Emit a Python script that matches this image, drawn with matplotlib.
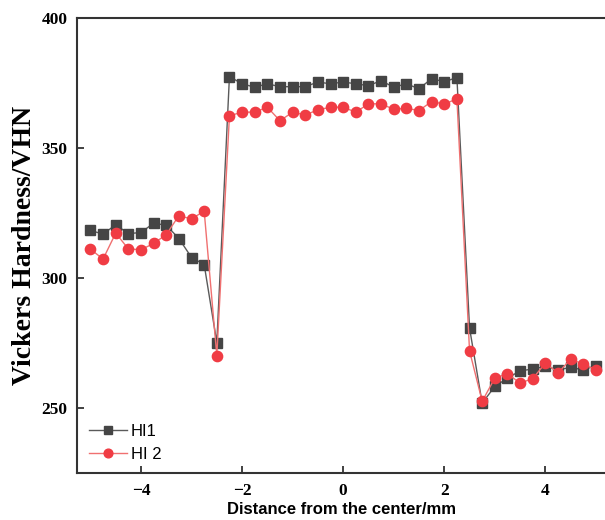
import matplotlib
matplotlib.use("Agg")
import matplotlib.pyplot as plt
import numpy as np

distance = [-5.0, -4.75, -4.5, -4.25, -4.0, -3.75, -3.5, -3.25, -3.0, -2.75, -2.5,
            -2.25, -2.0, -1.75, -1.5, -1.25, -1.0, -0.75, -0.5, -0.25, 0.0,
            0.25, 0.5, 0.75, 1.0, 1.25, 1.5, 1.75, 2.0, 2.25,
            2.5, 2.75, 3.0, 3.25, 3.5, 3.75, 4.0, 4.25, 4.5, 4.75, 5.0]

hi1 = [318.4, 317.0, 320.6, 317.2, 317.6, 321.2, 320.4, 315.3, 308.0, 305.3, 275.3,
       377.6, 374.8, 373.5, 374.8, 373.7, 373.7, 373.7, 375.5, 374.8, 375.5,
       374.8, 374.1, 376.0, 373.5, 374.8, 372.9, 376.8, 375.6, 377.2,
       280.9, 252.0, 258.4, 261.6, 264.4, 265.1, 266.1, 264.8, 265.7, 264.8, 266.4]

hi2 = [311.2, 307.4, 317.4, 311.3, 311.0, 313.4, 316.8, 324.1, 322.8, 325.9, 270.3,
       362.5, 363.9, 363.9, 365.8, 360.6, 363.9, 362.8, 364.8, 365.8, 365.8,
       363.9, 367.1, 367.1, 365.0, 365.4, 364.5, 368.0, 367.0, 369.0,
       272.1, 252.7, 261.6, 263.3, 259.7, 261.4, 267.4, 263.6, 268.9, 267.0, 264.8]

xticks = [-4, -2, 0, 2, 4]
yticks = [250, 300, 350, 400]

fig = plt.figure(figsize=(6.05, 5.2), dpi=100)
ax = fig.add_axes([77.3 / 605, 1 - 473.3 / 520, 1 - 77.3 / 605, (473.3 - 18.3) / 520])

ax.plot(distance, hi1, color="#5a5a5a", lw=1.0, marker="s", ms=6.6,
        mfc="#454545", mec="#454545", label="HI1", zorder=3)
ax.plot(distance, hi2, color="#f07070", lw=1.0, marker="o", ms=7.4,
        mfc="#f03c44", mec="#f03c44", label="HI 2", zorder=4)

ax.set_xlim(-5.26, 5.18)
ax.set_ylim(225, 400)
ax.set_xticks(xticks)
ax.set_yticks(yticks)
ax.set_xticklabels(["\u2212" + str(abs(t)) if t < 0 else str(t) for t in xticks])

for s in ["left", "bottom", "top"]:
    ax.spines[s].set_linewidth(1.5)
    ax.spines[s].set_color("#333333")
ax.spines["right"].set_visible(False)

ax.tick_params(direction="in", length=5, width=1.3, colors="#333333",
               labelcolor="black", pad=7)
for lab in ax.get_xticklabels() + ax.get_yticklabels():
    lab.set_fontfamily("Liberation Serif")
    lab.set_fontweight("bold")
    lab.set_fontsize(12.5)

ax.set_xlabel("Distance from the center/mm", fontfamily="Liberation Sans",
              fontweight="bold", fontsize=12, labelpad=2)
ax.set_ylabel("Vickers Hardness/VHN", fontfamily="Liberation Serif",
              fontweight="bold", fontsize=20)
ax.yaxis.set_label_coords((37 - 77.3) / (605 - 77.3), 0.5)

leg = ax.legend(loc="lower left", bbox_to_anchor=(0.0, 0.0), frameon=False,
                prop={"family": "Liberation Sans", "size": 12},
                handlelength=2.3, handletextpad=0.2, borderaxespad=0.3,
                labelspacing=0.45, markerscale=0.85)

fig.savefig("out.png", dpi=100)
